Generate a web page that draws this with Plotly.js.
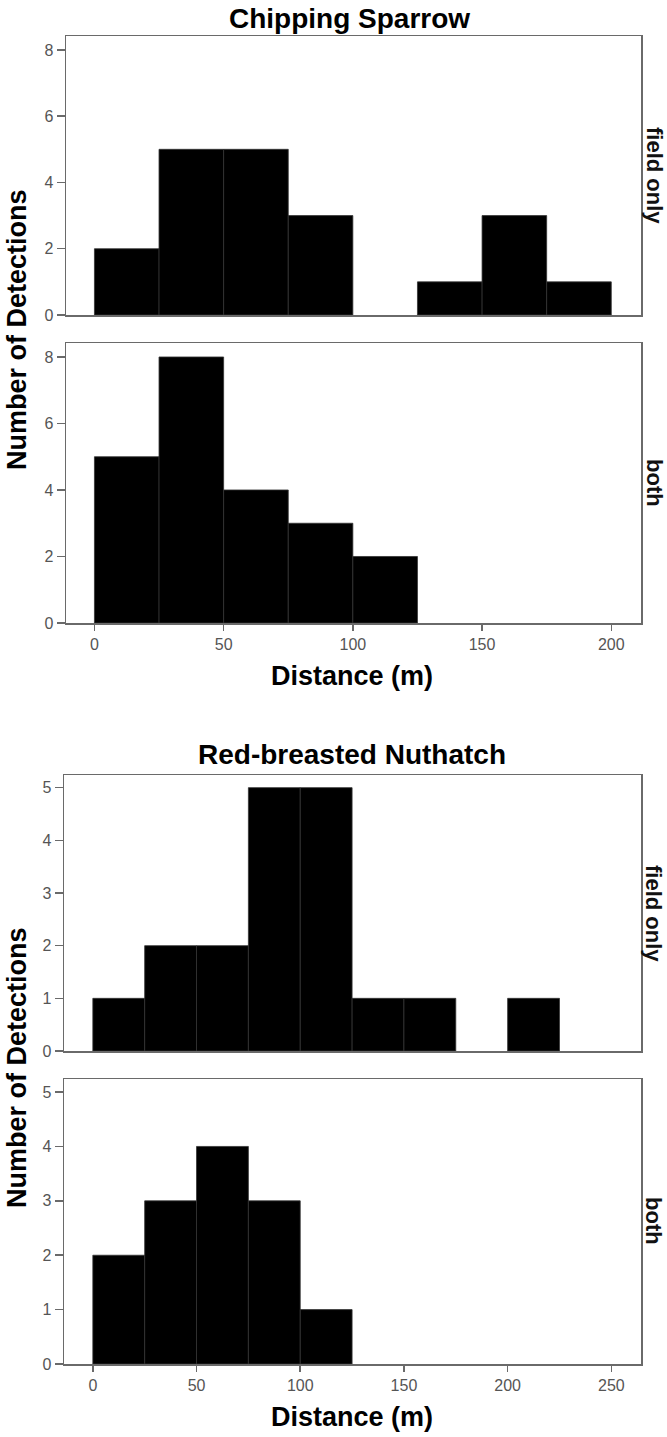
<!DOCTYPE html>
<html>
<head>
<meta charset="utf-8">
<script src="https://cdn.plot.ly/plotly-3.0.1.min.js"></script>
<style>html,body{margin:0;padding:0;background:#fff;}#chart{width:667px;height:1437px;}</style>
</head>
<body>
<div id="chart"></div>
<script>
// ---- data ----
const csBinStart = [0, 25, 50, 75, 100, 125, 150, 175];
const csFieldOnly = [2, 5, 5, 3, 0, 1, 3, 1];
const csBoth = [5, 8, 4, 3, 2, 0, 0, 0];
const rbBinStart = [0, 25, 50, 75, 100, 125, 150, 175, 200];
const rbFieldOnly = [1, 2, 2, 5, 5, 1, 1, 0, 1];
const rbBoth = [2, 3, 4, 3, 1, 0, 0, 0, 0];
const binWidth = 25;
const csXTicks = [0, 50, 100, 150, 200];
const rbXTicks = [0, 50, 100, 150, 200, 250];
const csYTicks = [0, 2, 4, 6, 8];
const rbYTicks = [0, 1, 2, 3, 4, 5];
const titles = ['Chipping Sparrow', 'Red-breasted Nuthatch'];
const rowLabels = ['field only', 'both'];
const xTitle = 'Distance (m)';
const yTitle = 'Number of Detections';

// ---- layout helpers ----
const W = 667, H = 1437;
const px = v => v / W;
const py = v => 1 - v / H;

function barTrace(xs, ys, xa, ya) {
  return {
    type: 'bar', x: xs, y: ys, width: binWidth, offset: 0,
    xaxis: xa, yaxis: ya,
    marker: {color: '#000', line: {color: '#333', width: ys.map(v => v > 0 ? 0.8 : 0)}},
    hoverinfo: 'skip', showlegend: false
  };
}

const data = [
  barTrace(csBinStart, csFieldOnly, 'x', 'y'),
  barTrace(csBinStart, csBoth, 'x2', 'y2'),
  barTrace(rbBinStart, rbFieldOnly, 'x3', 'y3'),
  barTrace(rbBinStart, rbBoth, 'x4', 'y4')
];

const tickFont = {family: 'Liberation Sans Narrow, Liberation Sans, Arial, sans-serif', size: 16, color: '#555'};
const lineCol = '#6a6a6a';

function xAxis(anchor, dom, range, ticks, showLabels) {
  return {
    anchor: anchor, domain: dom, range: range,
    showline: true, mirror: true, linecolor: lineCol, linewidth: 1.5,
    showgrid: false, zeroline: false,
    tickmode: 'array', tickvals: ticks,
    ticks: showLabels ? 'outside' : '', ticklen: 6, tickwidth: 1.5, tickcolor: lineCol,
    showticklabels: showLabels, tickfont: tickFont
  };
}
function yAxis(anchor, dom, range, ticks) {
  return {
    anchor: anchor, domain: dom, range: range,
    showline: true, mirror: true, linecolor: lineCol, linewidth: 1.5,
    showgrid: false, zeroline: false,
    tickmode: 'array', tickvals: ticks,
    ticks: 'outside', ticklen: 8, tickwidth: 1.5, tickcolor: lineCol,
    tickfont: tickFont
  };
}

const topX = [px(66), px(641)];
const botX = [px(64), px(641)];
const p1 = [py(315), py(36)];
const p2 = [py(623), py(343)];
const p3 = [py(1051), py(775)];
const p4 = [py(1364), py(1079)];

const csXRange = [-11.0, 211.5];
const rbXRange = [-13.9, 264.3];
const csYRange = [0, 8.42];
const rbYRange = [0, 5.24];

const titleFont = {family: 'Liberation Sans, Arial, sans-serif', size: 28, color: '#000'};
const axTitleFont = {family: 'Liberation Sans, Arial, sans-serif', size: 27, color: '#000'};
const rowFont = {family: 'Liberation Sans, Arial, sans-serif', size: 22, color: '#111'};

function ann(text, x, y, font, angle) {
  return {text: text, x: x, y: y, xref: 'paper', yref: 'paper', showarrow: false,
          xanchor: 'center', yanchor: 'middle', font: font, textangle: angle || 0};
}

const annotations = [
  ann('<b>' + titles[0] + '</b>', px(350), py(18), titleFont),
  ann('<b>' + titles[1] + '</b>', px(352), py(755), titleFont),
  ann('<b>' + xTitle + '</b>', px(352), py(676), axTitleFont),
  ann('<b>' + xTitle + '</b>', px(352), py(1417), axTitleFont),
  ann('<b>' + yTitle + '</b>', px(17), py(330), axTitleFont, -90),
  ann('<b>' + yTitle + '</b>', px(17), py(1068), axTitleFont, -90),
  ann('<b>' + rowLabels[0] + '</b>', px(654), py(175), rowFont, 90),
  ann('<b>' + rowLabels[1] + '</b>', px(654), py(483), rowFont, 90),
  ann('<b>' + rowLabels[0] + '</b>', px(654), py(913), rowFont, 90),
  ann('<b>' + rowLabels[1] + '</b>', px(654), py(1221), rowFont, 90)
];

const layout = {
  width: W, height: H,
  margin: {l: 0, r: 0, t: 0, b: 0},
  paper_bgcolor: '#fff', plot_bgcolor: '#fff',
  bargap: 0,
  xaxis: xAxis('y', topX, csXRange, csXTicks, false),
  yaxis: yAxis('x', p1, csYRange, csYTicks),
  xaxis2: xAxis('y2', topX, csXRange, csXTicks, true),
  yaxis2: yAxis('x2', p2, csYRange, csYTicks),
  xaxis3: xAxis('y3', botX, rbXRange, rbXTicks, false),
  yaxis3: yAxis('x3', p3, rbYRange, rbYTicks),
  xaxis4: xAxis('y4', botX, rbXRange, rbXTicks, true),
  yaxis4: yAxis('x4', p4, rbYRange, rbYTicks),
  annotations: annotations
};

Plotly.newPlot('chart', data, layout, {staticPlot: true, displayModeBar: false});
</script>
</body>
</html>
